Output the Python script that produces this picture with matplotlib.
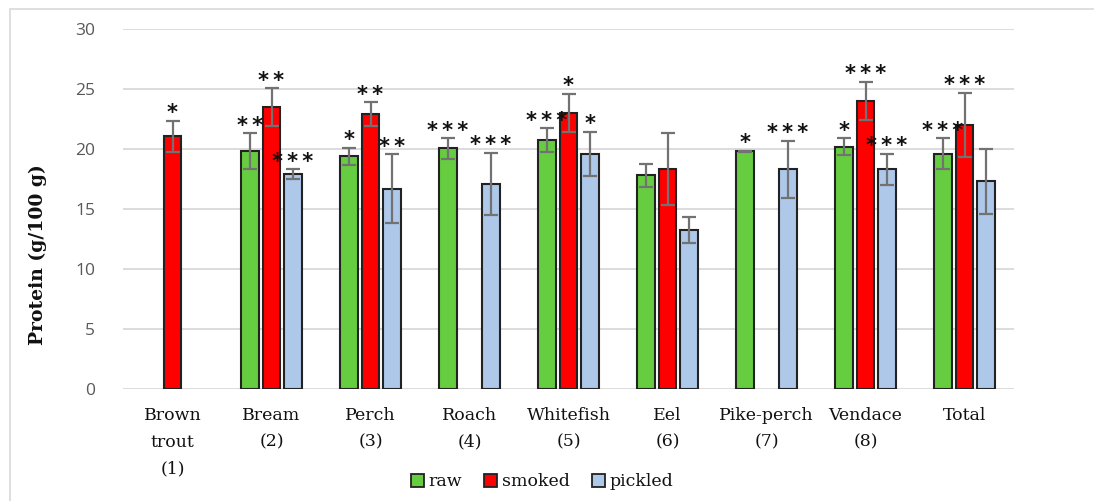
import numpy as np
import matplotlib
matplotlib.use("Agg")
import matplotlib.pyplot as plt
from matplotlib.patches import Rectangle, Patch

categories = ["Brown\ntrout\n(1)", "Bream\n(2)", "Perch\n(3)", "Roach\n(4)", "Whitefish\n(5)",
              "Eel\n(6)", "Pike-perch\n(7)", "Vendace\n(8)", "Total"]
series_names = ["raw", "smoked", "pickled"]
raw = [np.nan, 19.8, 19.4, 20.05, 20.75, 17.8, 19.8, 20.2, 19.6]
smoked = [21.05, 23.5, 22.9, np.nan, 23.0, 18.3, np.nan, 24.0, 22.0]
pickled = [np.nan, 17.9, 16.7, 17.1, 19.6, 13.25, 18.3, 18.3, 17.3]
raw_err = [np.nan, 1.5, 0.7, 0.85, 1.0, 0.95, 0.05, 0.7, 1.3]
smoked_err = [1.3, 1.55, 1.0, np.nan, 1.6, 3.0, np.nan, 1.6, 2.7]
pickled_err = [np.nan, 0.4, 2.85, 2.6, 1.85, 1.1, 2.4, 1.3, 2.7]
raw_sig = ["", "**", "*", "***", "***", "", "*", "*", "***"]
smoked_sig = ["*", "**", "**", "", "*", "", "", "***", "***"]
pickled_sig = ["", "***", "**", "***", "*", "", "***", "***", ""]
y_ticks = [0, 5, 10, 15, 20, 25, 30]

colors = ["#66cc40", "#ff0000", "#adc8e8"]

fig = plt.figure(figsize=(10.94, 5.01), dpi=100)
W, H = 1094, 501
# outer chart border (clipped at right/bottom like reference)
fig.patches.append(Rectangle((10 / W, -0.05), 1.2, 1 - 9 / H + 0.05, transform=fig.transFigure,
                             fill=False, edgecolor="#d9d9d9", linewidth=1.2))

ax = fig.add_axes([123 / W, 1 - 389 / H, (1014 - 123) / W, (389 - 29) / H])
x = np.arange(len(categories))
width = 0.178
offsets = [-0.217, 0.0, 0.217]
data = [raw, smoked, pickled]
errs = [raw_err, smoked_err, pickled_err]
sigs = [raw_sig, smoked_sig, pickled_sig]

for i in range(3):
    vals = np.array(data[i], dtype=float)
    er = np.array(errs[i], dtype=float)
    xs = x + offsets[i]
    ax.bar(xs, vals, width, color=colors[i], edgecolor="#222222", linewidth=1.5, zorder=3)
    ax.errorbar(xs, vals, yerr=er, fmt="none", ecolor="#727272", elinewidth=1.6,
                capsize=5, capthick=1.6, zorder=4)
    for xi, v, e, s in zip(xs, vals, er, sigs[i]):
        if s and not np.isnan(v):
            top = v + (0 if np.isnan(e) else e)
            ax.annotate("\u2009".join(s), (xi, top), xytext=(0, 1.0), textcoords="offset points",
                        ha="center", va="baseline", fontsize=15, fontweight="bold",
                        family="DejaVu Sans", color="#111111", zorder=5)

ax.set_xlim(-0.5, len(categories) - 0.5)
ax.set_ylim(0, 30)
ax.set_yticks(y_ticks)
ax.set_yticklabels([str(t) for t in y_ticks], fontsize=12.5, color="#595959", family="Open Sans")
ax.set_xticks(x)
ax.set_xticklabels(categories, fontsize=12.5, family="DejaVu Serif", linespacing=1.75,
                   va="top", color="#111111")
ax.tick_params(axis="both", length=0)
ax.tick_params(axis="y", pad=20)
ax.tick_params(axis="x", pad=13)
ax.grid(axis="y", color="#d9d9d9", linewidth=1.3, zorder=0)
ax.set_axisbelow(True)
for sp in ax.spines.values():
    sp.set_visible(False)

fig.text(38 / W, 1 - 255 / H, "Protein (g/100 g)", rotation=90, ha="center", va="center",
         fontsize=13.5, fontweight="bold", family="DejaVu Serif", color="#111111")

handles = [Patch(facecolor=c, edgecolor="#222222", linewidth=1.3) for c in colors]
fig.legend(handles, series_names, loc="center", bbox_to_anchor=(542 / W, 1 - 482 / H), ncol=3,
           frameon=False, prop={"family": "DejaVu Serif", "size": 12.5},
           handlelength=0.75, handleheight=0.75, handletextpad=0.25, columnspacing=1.3,
           labelcolor="#111111")

fig.savefig("out.png", dpi=100)
